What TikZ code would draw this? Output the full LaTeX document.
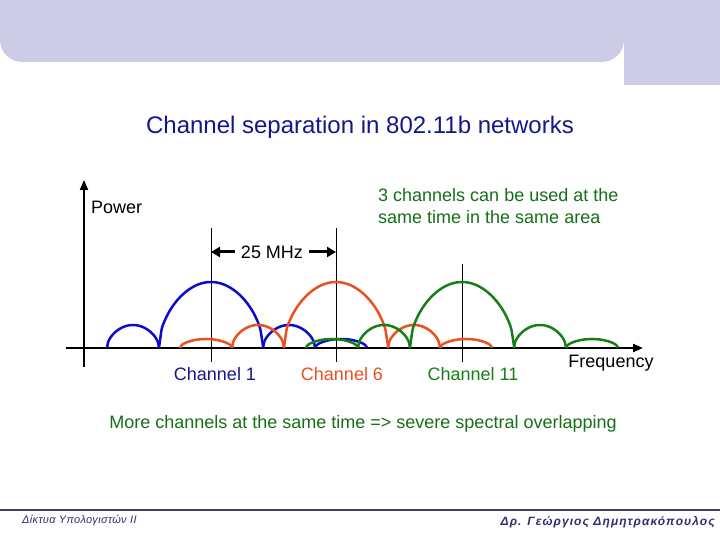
\documentclass[tikz,border=0pt]{standalone}
\usepackage{fontspec}
\setmainfont{Liberation Sans}
\usetikzlibrary{arrows.meta,positioning}
\definecolor{headlav}{RGB}{204,204,230}
\definecolor{titlenavy}{RGB}{22,22,140}
\definecolor{lobeblue}{RGB}{12,12,200}
\definecolor{lobered}{RGB}{232,82,34}
\definecolor{lobegreen}{RGB}{22,128,22}
\definecolor{notegreen}{RGB}{20,112,20}
\definecolor{footnavy}{RGB}{46,46,112}
\definecolor{footline}{RGB}{64,64,96}
% one lobe of the spectrum: start, width, height, colour
\newcommand{\lobe}[4]{%
  \draw[#4, lobeline] plot[domain=0:1, samples=41, smooth]
    ({#1+#2*\x},{192+#3*sqrt(abs(sin(180*\x)))});}
% all lobes of one channel: centre, colour, list offset/width/height
\newcommand{\chanspec}[3]{%
  \foreach \o/\w/\h in {#3}{%
    \pgfmathsetmacro{\a}{#1+\o}%
    \lobe{\a}{\w}{\h}{#2}}}

\begin{document}
\begin{tikzpicture}[x=1pt, y=1pt,
    lobeline/.style={line width=2.5pt, line join=round},
    axisline/.style={line width=2pt, -{Triangle[length=10pt, width=8pt]}},
    chanline/.style={line width=0.9pt},
    span/.style={line width=3pt, -{Triangle[length=9pt, width=10pt]}},
    lbl/.style={font=\fontsize{18}{22}\selectfont, inner sep=1pt},
    foot/.style={font=\fontsize{11}{13}\selectfont\itshape\addfontfeature{LetterSpace=3},
      text=footnavy, inner sep=0pt}]
  \useasboundingbox (0,0) rectangle (720,540);

  % header band
  \fill[headlav, rounded corners=22pt] (0,580) rectangle (624,478);
  \fill[headlav] (624,540) rectangle (720,455);

  % title
  \node[font=\fontsize{24}{28}\selectfont, text=titlenavy] (title) at (360,413)
    {Channel separation in 802.11b networks};

  % axes
  \coordinate (orig) at (84,192);
  \coordinate (ytop) at (84,360);
  \coordinate (ybot) at (84,173);
  \coordinate (xleft) at (66,192);
  \coordinate (xright) at (643,192);
  \draw[axisline] (ybot) -- (ytop);
  \draw[axisline] (xleft) -- (xright);

  % channel centre lines
  \coordinate (c1top) at (211,312);  \coordinate (c1bot) at (211,178);
  \coordinate (c6top) at (336,312);  \coordinate (c6bot) at (336,178);
  \coordinate (c11top) at (462,276); \coordinate (c11bot) at (462,178);
  \draw[chanline] (c1top) -- (c1bot);
  \draw[chanline] (c6top) -- (c6bot);
  \draw[chanline] (c11top) -- (c11bot);

  % spectra
  \chanspec{211}{lobeblue}{-104/52/23, -52/104/66, 52/52/23, 104/52/9}
  \chanspec{336}{lobered}{-156/52/9, -104/52/23, -52/104/66, 52/52/23, 104/52/9}
  \chanspec{462}{lobegreen}{-156/52/9, -104/52/23, -52/104/66, 52/52/23, 104/52/9}

  % channel spacing
  \node[lbl, inner sep=6pt] (mhz) at (272,288) {25 MHz};
  \draw[span] (mhz.west) -- (mhz.west -| c1top);
  \draw[span] (mhz.east) -- (mhz.east -| c6top);

  % labels
  \node[lbl, anchor=west] (power) at (90,333) {Power};
  \node[lbl, anchor=west, text=notegreen, align=left] (note) at (377,334)
    {3 channels can be used at the\\same time in the same area};
  \node[lbl, text=titlenavy] (ch1) at (215,166) {Channel 1};
  \node[lbl, text=lobered] (ch6) at (342,166) {Channel 6};
  \node[lbl, text=lobegreen] (ch11) at (473,166) {Channel 11};
  \node[lbl] (freq) at (611,177) {Frequency};
  \node[lbl, text=notegreen] (more) at (363,116)
    {More channels at the same time => severe spectral overlapping};

  % footer
  \draw[footline, line width=1.4pt] (0,30) -- (720,30);
  \node[foot, anchor=west] (course) at (22,20) {Δίκτυα Υπολογιστών II};
  \node[foot, font=\fontsize{12}{14}\selectfont\bfseries\itshape\addfontfeature{LetterSpace=9},
    anchor=east] (author) at (715,18) {Δρ. Γεώργιος Δημητρακόπουλος};
\end{tikzpicture}
\end{document}
